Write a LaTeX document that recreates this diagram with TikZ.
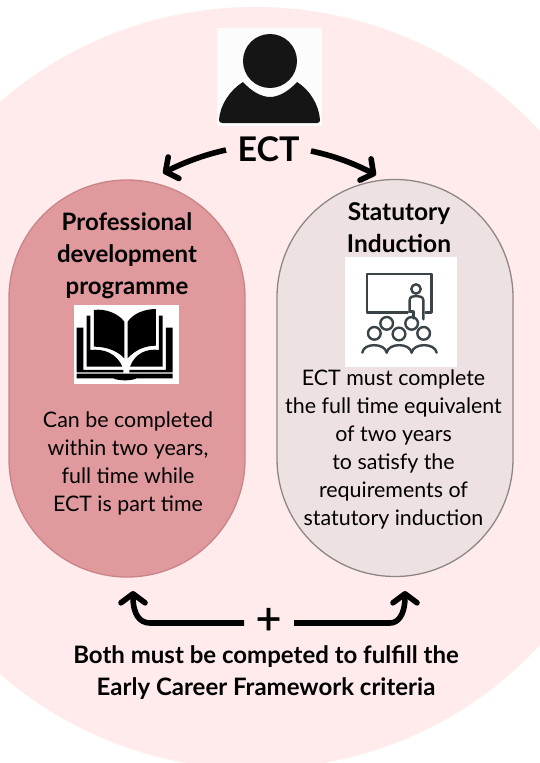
\documentclass[tikz,border=0pt]{standalone}
\usepackage{fontspec}
\setmainfont{Lato}
\newfontfamily\heavyfont[FakeBold=1.2]{Lato}
\usetikzlibrary{arrows.meta}
\definecolor{bgpink}{HTML}{FFEBEB}
\definecolor{rosefill}{HTML}{E09A9E}
\definecolor{roseline}{HTML}{C98488}
\definecolor{greyfill}{HTML}{EDE2E1}
\definecolor{greyline}{HTML}{8E8686}
\definecolor{iconwhite}{HTML}{FCFCFC}
\definecolor{iconblack}{HTML}{151515}
\definecolor{teach}{HTML}{3A4448}
\tikzset{
  pill/.style={draw=#1,line width=1.3pt,rounded corners=118pt,minimum width=236pt,minimum height=397pt,inner sep=0pt},
  lbl/.style={align=center,inner sep=0pt,text=black},
  bodytxt/.style={lbl,font=\fontsize{21.4}{28}\selectfont},
  titletxt/.style={lbl,font=\fontsize{24}{32}\selectfont\bfseries},
  iconbox/.style={inner sep=0pt},
  bigarrow/.style={line width=5.6pt,line join=round,-{Straight Barb[length=9pt,width=24pt,line width=5.6pt,round]}}
}
\begin{document}
\begin{tikzpicture}[x=1pt,y=-1pt]
\useasboundingbox (0,0) rectangle (540,763);
\fill[white] (0,0) rectangle (540,763);
\begin{scope}
\clip (0,0) rectangle (540,763);
\fill[bgpink] (255,388) ellipse [x radius=386pt,y radius=381pt];
\end{scope}

% person icon
\node[iconbox,fill=iconwhite,minimum width=105pt,minimum height=98pt] (person) at (269.5,77) {};
\fill[iconblack] (270,61) circle (27pt);
\fill[iconblack] (243,82) .. controls (252,92) and (262,97) .. (270,97) .. controls (278,97) and (288,92) .. (297,82)
  .. controls (310,90) and (319,105) .. (320,120) .. controls (320,122) and (319,123) .. (317,123)
  -- (223,123) .. controls (220,123) and (219,122) .. (219,120) .. controls (220,105) and (230,90) .. (243,82) -- cycle;

\node[lbl,font=\fontsize{34}{36}\selectfont\bfseries] (ect) at (268.5,149) {ECT};

% pills
\node[pill=roseline,fill=rosefill] (pdp) at (127,378.5) {};
\node[pill=greyline,fill=greyfill] (si) at (395,378) {};

% arrows from ECT
\coordinate (la) at (226,150);
\coordinate (lb) at (163,173);
\coordinate (ra) at (311,151);
\coordinate (rb) at (376,175);
\draw[bigarrow] (la) .. controls (203,155) and (183,163) .. (lb);
\draw[bigarrow] (ra) .. controls (335,156) and (355,164) .. (rb);

% titles
\node[titletxt] (pdpt) at (127,255.5) {Professional\\development\\programme};
\node[lbl,font=\fontsize{24.5}{32}\selectfont\bfseries] (sit) at (399,227.5) {Statutory\\Induction};

% book icon
\node[iconbox,fill=white,minimum width=105pt,minimum height=79pt] (book) at (126.5,344.5) {};
\begin{scope}[shift={(60,295)},x=0.3333pt,y=-0.3333pt]
 \fill[black] (50,98) -- (70,98) -- (70,225) -- (190,225) -- (190,232) -- (50,232) -- cycle;
 \fill[black] (338,98) -- (318,98) -- (318,225) -- (208,225) -- (208,232) -- (338,232) -- cycle;
 \fill[black] (50,236) -- (338,236) -- (338,250) -- (230,250) .. controls (215,258) and (175,258) .. (160,250) -- (50,250) -- cycle;
 \fill[black] (80,62) -- (91,62) -- (91,165) .. controls (130,160) and (170,175) .. (187,215) -- (80,215) -- cycle;
 \fill[black] (308,62) -- (297,62) -- (297,165) .. controls (260,160) and (225,175) .. (210,215) -- (308,215) -- cycle;
 \fill[black] (102,45) .. controls (135,40) and (175,55) .. (193,80) -- (193,190) .. controls (170,165) and (135,155) .. (102,155) -- cycle;
 \fill[black] (288,42) .. controls (255,42) and (220,55) .. (203,80) -- (203,190) .. controls (225,165) and (255,152) .. (288,152) -- cycle;
\end{scope}

% teaching icon
\node[iconbox,fill=white,minimum width=112pt,minimum height=110pt] (teaching) at (401,312) {};
\begin{scope}[shift={(335,250)},x=0.3333pt,y=-0.3333pt,draw=teach,line width=2.4pt,line cap=round,line join=round]
 \draw (218,188) -- (96,188) -- (96,72) -- (290,72) -- (290,188) -- (272,188);
 \draw (243,117) circle [radius=14*0.3333pt];
 \draw (224,185) -- (224,150) .. controls (224,140) and (235,138) .. (243,138) .. controls (252,138) and (265,140) .. (265,150) -- (265,208);
 \draw (224,185) -- (236,185) -- (236,205);
 \draw (155,220) circle [radius=19*0.3333pt];
 \draw (230,220) circle [radius=19*0.3333pt];
 \draw (118,250) circle [radius=19*0.3333pt];
 \draw (192,252) circle [radius=19*0.3333pt];
 \draw (266,250) circle [radius=19*0.3333pt];
 \draw (82,308) .. controls (85,278) and (150,278) .. (155,308);
 \draw (155,308) .. controls (160,278) and (225,278) .. (230,308);
 \draw (230,308) .. controls (235,278) and (300,278) .. (305,308);
\end{scope}

% body texts
\node[bodytxt] (pdpb) at (128,463) {Can be completed\\within two years,\\full time while\\ECT is part time};
\node[bodytxt] (sib) at (393.5,449.5) {ECT must complete\\the full time equivalent\\of two years\\to satisfy the\\requirements of\\statutory induction};

% bottom
\node[lbl,font=\fontsize{44}{44}\selectfont\heavyfont] (plus) at (268.5,621) {+};
\coordinate (bl) at (133,591);
\coordinate (br) at (405,591);
\coordinate (blstart) at (244,623);
\coordinate (brstart) at (294,623);
\draw[bigarrow] (blstart) -- (150,623) .. controls (140,623) and (133,615) .. (bl);
\draw[bigarrow] (brstart) -- (390,623) .. controls (398,623) and (405,615) .. (br);
\node[lbl,font=\fontsize{24}{32}\selectfont\bfseries] (foot) at (266,673) {Both must be competed to fulfill the\\Early Career Framework criteria};
\end{tikzpicture}
\end{document}
